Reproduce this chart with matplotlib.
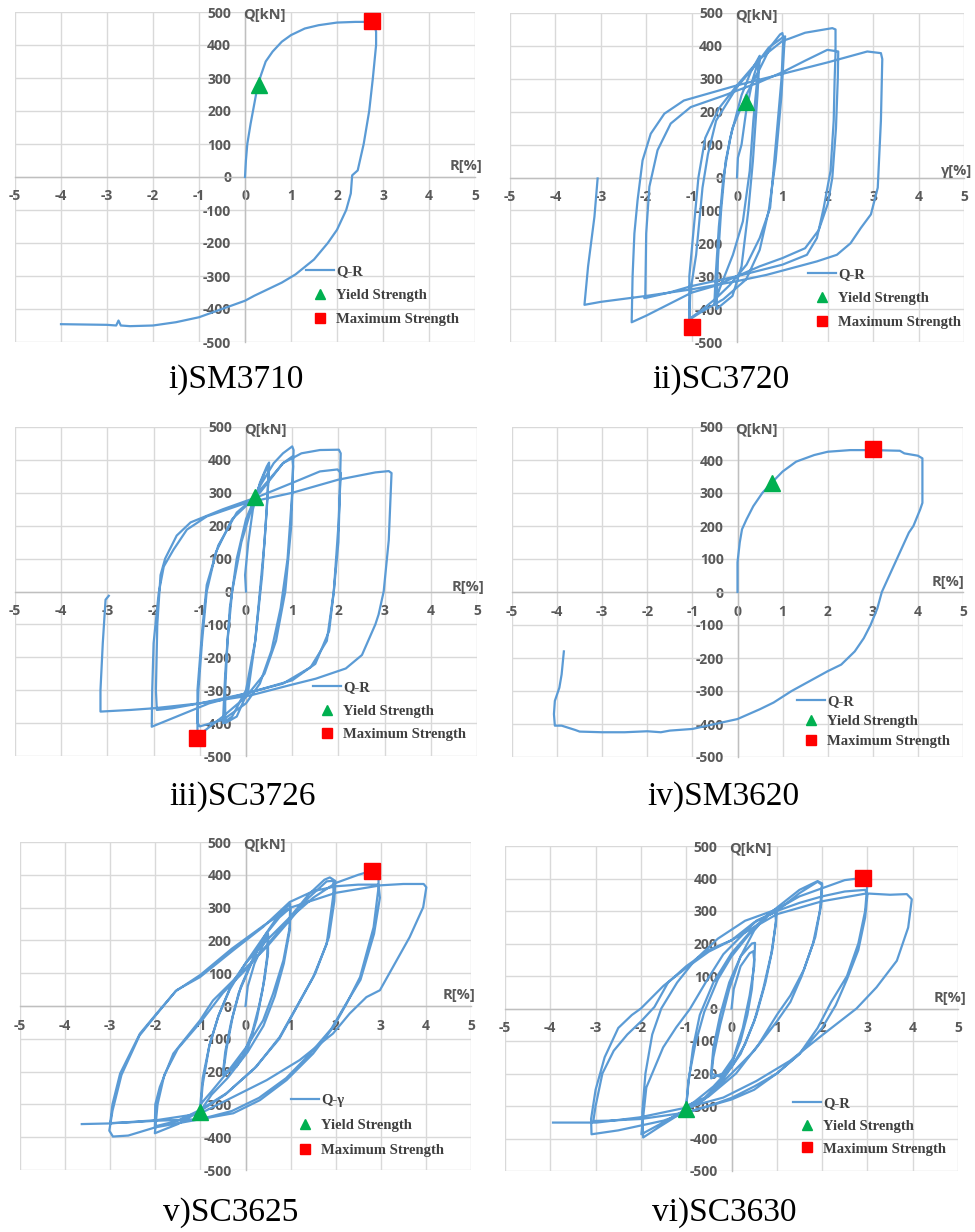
import matplotlib
matplotlib.use('Agg')
import matplotlib.pyplot as plt

plt.rcParams['axes.unicode_minus'] = False

# ---------------- data ----------------
x_ticks = [-5, -4, -3, -2, -1, 0, 1, 2, 3, 4, 5]
y_ticks = [-500, -400, -300, -200, -100, 0, 100, 200, 300, 400, 500]

# i) SM3710
sm3710_r = [0, 0.02, 0.05, 0.12, 0.2, 0.28, 0.35, 0.45, 0.6, 0.8, 1.0, 1.3, 1.6, 2.0, 2.4, 2.8,
            2.85, 2.85, 2.78, 2.7, 2.58, 2.45, 2.33, 2.3, 2.2, 2.1, 2.0, 1.8, 1.5, 1.1, 0.8, 0.5,
            0.2, 0.0, -0.5, -1.0, -1.5, -2.0, -2.5, -2.7, -2.75, -2.8, -3.0, -4.0]
sm3710_q = [0, 50, 100, 160, 220, 280, 310, 350, 380, 410, 430, 450, 460, 468, 470, 470,
            440, 400, 300, 200, 100, 20, 5, -50, -100, -130, -160, -200, -250, -295, -320, -340,
            -360, -375, -400, -425, -440, -450, -452, -450, -435, -450, -448, -446]
sm3710_yield = (0.3, 278)
sm3710_max = (2.75, 472)

# ii) SC3720
sc3720_r = [0, 0.02, 0.1, 0.2, 0.35, 0.5, 0.43, 0.36, 0.28, 0.13, -0.09, -0.38, -0.5,
            -0.47, -0.4, -0.3, -0.15, 0.1, 0.3, 0.5, 0.45, 0.35, 0.25, 0.1, -0.1, -0.45,
            -0.42, -0.35, -0.25, -0.1, 0.2, 0.5, 0.75, 0.95, 1.0, 1.02, 0.98, 0.9, 0.73, 0.5,
            0.21, -0.16, -0.46, -0.75, -1.0, -1.05, -1.03, -0.9, -0.76, -0.64, -0.46, 0.0, 0.4,
            0.7, 1.0, 1.06, 1.04, 0.98, 0.85, 0.7, 0.5, 0.2, -0.3, -0.8, -1.05, -1.05, -0.95,
            -0.85, -0.7, -0.4, 0.0, 0.5, 1.0, 1.17, 1.5, 2.1, 2.17, 2.17, 2.15, 2.13, 2.06, 1.91,
            1.76, 1.54, 1.0, 0.0, -1.0, -1.5, -2.04, -2.02, -2.0, -1.93, -1.75, -1.46, -1.02,
            -0.29, 0.5, 1.0, 1.5, 1.99, 2.23, 2.22, 2.18, 2.1, 2.0, 1.8, 1.5, 1.0, 0.5, 0.0, -0.5,
            -1.0, -1.5, -2.0, -2.32, -2.3, -2.26, -2.19, -2.08, -1.9, -1.6, -1.17, 0.0, 1.0, 2.0,
            2.87, 3.17, 3.2, 3.17, 3.1, 2.95, 2.73, 2.5, 2.2, 1.76, 0.65, 0.0, -1.0, -2.0, -3.0,
            -3.36, -3.28, -3.14, -3.07]
sc3720_q = [0, 60, 100, 200, 300, 367, 276, 173, 20, -133, -235, -337, -388,
            -300, -150, 0, 120, 250, 320, 370, 250, 50, -100, -270, -360, -400,
            -250, -100, 50, 150, 250, 330, 400, 435, 439, 420, 300, 173, -92, -184,
            -265, -327, -367, -400, -425, -430, -350, -235, -31, 71, 173, 275, 340,
            395, 425, 429, 400, 250, 50, -100, -220, -310, -370, -410, -432, -300, -150,
            0, 120, 210, 280, 360, 415, 423, 440, 454, 450, 378, 296, 173, 20, -92,
            -184, -235, -265, -300, -330, -350, -367, -360, -170, -28, 83, 164, 214,
            249, 290, 320, 355, 388, 383, 300, 150, 0, -80, -160, -215, -245, -270, -300, -330,
            -350, -385, -420, -440, -300, -170, -69, 52, 133, 194, 234, 280, 315, 350,
            383, 378, 360, 173, -31, -112, -153, -200, -235, -255, -296, -315, -340, -360, -378,
            -387, -270, -119, -3]
sc3720_yield = (0.2, 230)
sc3720_max = (-1.0, -455)

# iii) SC3726
sc3726_r = [0, -0.02, 0.05, 0.15, 0.3, 0.45, 0.5, 0.47, 0.4, 0.3, 0.2, 0.05, -0.2, -0.45,
            -0.45, -0.4, -0.3, -0.1, 0.2, 0.4, 0.5, 0.45, 0.35, 0.2, 0.0, -0.3, -0.5,
            -0.45, -0.35, -0.2, 0.0, 0.3, 0.6, 0.8, 1.0, 1.03, 1.0, 0.9, 0.75, 0.55, 0.3, 0.0,
            -0.5, -1.0, -1.05, -1.03, -0.95, -0.85, -0.65, -0.3, 0.0, 0.5, 0.8, 1.0, 1.02,
            0.98, 0.85, 0.65, 0.4, 0.0, -0.5, -1.05, -1.05, -0.95, -0.85, -0.6, -0.2, 0.3,
            0.8, 1.2, 1.6, 2.01, 2.05, 2.03, 2.0, 1.9, 1.8, 1.5, 1.0, 0.5, 0.0, -1.0, -1.6,
            -1.93, -1.95, -1.92, -1.85, -1.75, -1.5, -1.2, -0.5, 0.3, 1.0, 1.6, 1.98, 2.05,
            2.0, 1.9, 1.75, 1.4, 0.8, 0.0, -0.8, -1.5, -2.04, -2.03, -2.0, -1.89, -1.78, -1.57,
            -1.28, -0.85, 0.0, 1.0, 2.0, 2.8, 3.09, 3.15, 3.09, 2.98, 2.87, 2.8, 2.51, 2.16,
            1.51, 0.94, 0.09, -1.0, -2.0, -2.5, -3.15, -3.15, -3.1, -3.04, -2.97]
sc3726_q = [0, 50, 150, 250, 330, 380, 392, 300, 150, 0, -150, -300, -380, -400,
            -300, -150, 0, 150, 290, 360, 385, 250, 50, -150, -300, -380, -400,
            -250, -50, 100, 220, 320, 390, 420, 441, 430, 300, 100, -50, -180, -280, -340,
            -390, -410, -400, -300, -150, 0, 120, 220, 260, 340, 390, 410, 380,
            200, 0, -150, -250, -320, -380, -440, -300, -120, 20, 140, 240, 300,
            390, 420, 430, 431, 420, 300, 150, 0, -120, -220, -270, -290, -310, -340, -355,
            -360, -300, -100, 50, 100, 170, 210, 250, 290, 330, 365, 371, 360,
            200, 0, -150, -230, -280, -310, -340, -380, -411, -300, -157, -5, 76, 127,
            188, 228, 269, 300, 340, 362, 366, 360, 156, 0, -70, -100, -193, -234,
            -265, -285, -316, -340, -355, -360, -365, -300, -157, -25, -13]
sc3726_yield = (0.2, 288)
sc3726_max = (-1.05, -445)

# iv) SM3620
sm3620_r = [0, 0, 0.05, 0.1, 0.2, 0.35, 0.55, 0.75, 1.0, 1.3, 1.7, 2.0, 2.5, 3.0, 3.6, 3.7,
            4.0, 4.1, 4.1, 4.1, 4.05, 3.9, 3.8, 3.5, 3.3, 3.2, 3.1, 2.95, 2.8, 2.6, 2.3, 2.0,
            1.6, 1.2, 0.8, 0.5, 0.0, -0.5, -1.0, -1.5, -1.7, -2.0, -2.5, -3.0, -3.5, -3.6,
            -3.9, -4.05, -4.07, -4.05, -3.95, -3.9, -3.85]
sm3620_q = [0, 90, 150, 190, 220, 260, 300, 330, 365, 395, 415, 425, 430, 430, 428, 420,
            413, 405, 350, 270, 250, 200, 180, 90, 30, 0, -50, -100, -140, -180, -220, -240,
            -270, -300, -335, -355, -385, -400, -415, -420, -425, -422, -425, -425, -423, -418,
            -405, -405, -370, -330, -290, -250, -180]
sm3620_yield = (0.77, 330)
sm3620_max = (3.0, 432)

# v) SC3625
sc3625_r = [0, 0.05, 0.2, 0.4, 0.5, 0.5, 0.42, 0.3, 0.15, -0.05, -0.3, -0.5, -0.45, -0.32,
            -0.15, 0.1, 0.3, 0.5, 0.48, 0.38, 0.25, 0.05, -0.2, -0.5,
            -0.42, -0.28, -0.1, 0.15, 0.45, 0.75, 0.99, 0.98, 0.84, 0.61, 0.39, 0.02, -0.42,
            -0.75, -1.0, -0.95, -0.8, -0.6, -0.35, 0.0, 0.4, 0.75, 1.0, 0.98, 0.85, 0.65, 0.4,
            0.05, -0.4, -0.75, -1.0,
            -0.95, -0.8, -0.6, -0.3, 0.0, 0.47, 0.98, 1.4, 1.75, 1.87, 1.95, 1.95, 1.8, 1.5,
            1.13, 0.76, 0.24, -0.42, -1.01, -1.5, -2.01, -2.0, -1.9, -1.6, -1.01, -0.72, -0.27,
            0.47, 0.98, 1.4, 1.8, 1.99, 1.97, 1.85, 1.55, 1.15, 0.75, 0.2, -0.45, -1.0, -1.5,
            -2.01,
            -1.95, -1.8, -1.5, -1.0, -0.5, 0.0, 0.5, 1.0, 1.5, 2.0, 2.5, 2.8, 2.95, 2.95, 2.84,
            2.54, 2.24, 1.95, 1.5, 0.91, 0.32, -0.27, -1.0, -2.0, -2.6, -3.0, -2.95, -2.78,
            -2.34, -1.97, -1.53, -1.01, -0.27, 0.39, 0.98, 1.5, 2.0, 2.5, 2.95, 2.98, 2.85,
            2.55, 2.2, 1.9, 1.4, 0.9, 0.3, -0.3, -1.0, -2.0, -2.6, -2.94, -3.02, -2.95, -2.75,
            -2.35, -2.0, -1.55, -1.0, -0.3, 0.4, 1.0, 2.0, 3.0, 3.5, 3.95, 4.01, 3.94, 3.64,
            3.27, 2.98, 2.68, 2.31, 1.94, 1.2, 0.47, -0.27, -1.01, -1.97, -3.0, -3.63]
sc3625_q = [0, 60, 130, 190, 215, 160, 80, 0, -80, -150, -190, -205, -140, -50,
            40, 120, 180, 220, 150, 50, -40, -130, -185, -210,
            -130, -30, 60, 140, 220, 280, 311, 240, 139, 37, -44, -125, -205,
            -260, -300, -220, -120, -30, 50, 130, 210, 270, 300, 230, 130, 30, -60,
            -140, -220, -270, -320,
            -240, -120, -30, 70, 130, 200, 270, 340, 385, 392, 385, 341, 189, 88,
            -3, -94, -185, -266, -317, -350, -367, -300, -247, -145, -44, 17, 78,
            180, 261, 330, 380, 382, 320, 210, 100, 0, -100, -190, -270, -320, -360,
            -388,
            -300, -210, -130, -50, 40, 110, 190, 270, 330, 375, 400, 412, 400, 362, 240,
            88, 7, -64, -145, -226, -287, -327, -345, -350, -355, -357, -300, -206,
            -84, -23, 48, 88, 170, 241, 317, 350, 365, 370, 370, 330, 220,
            80, 0, -70, -150, -220, -280, -320, -345, -370, -395, -398, -380, -320, -210,
            -90, -30, 45, 95, 175, 245, 300, 345, 368, 372, 372, 362, 301, 210,
            119, 48, 27, -23, -84, -165, -226, -277, -328, -348, -358, -360]
sc3625_yield = (-1.0, -322)
sc3625_max = (2.8, 413)

# vi) SC3630
sc3630_r = [0, 0.05, 0.2, 0.4, 0.48, 0.5, 0.45, 0.35, 0.2, 0.0, -0.25, -0.45, -0.4, -0.25,
            -0.05, 0.2, 0.45, 0.52, 0.5, 0.4, 0.25, 0.05, -0.2, -0.45,
            -0.4, -0.25, -0.05, 0.2, 0.5, 0.8, 0.96, 0.98, 0.9, 0.75, 0.55, 0.3, 0.0, -0.4,
            -0.8, -1.0, -0.95, -0.8, -0.6, -0.3, 0.0, 0.4, 0.8, 1.0, 0.98, 0.88, 0.7, 0.5,
            0.2, -0.2, -0.6, -1.0,
            -0.95, -0.85, -0.7, -0.4, 0.0, 0.5, 1.0, 1.5, 1.9, 2.0, 1.98, 1.85, 1.6, 1.3, 1.0,
            0.6, 0.1, -0.5, -1.0, -1.5, -1.99, -1.88, -1.51, -1.22, -0.92, -0.55, -0.18, 0.55,
            1.0, 1.5, 1.9, 2.0, 1.95, 1.8, 1.55, 1.3, 1.0, 0.5, 0.0, -0.6, -1.2, -1.6, -1.95,
            -1.97, -1.9, -1.75, -1.55, -1.2, -0.8, -0.3, 0.3, 1.0, 1.5, 2.0, 2.5, 2.9, 3.0,
            2.95, 2.8, 2.55, 2.2, 1.9, 1.5, 1.0, 0.5, 0.0, -1.0, -2.0, -2.7, -3.05, -3.0,
            -2.85, -2.6, -2.3, -2.0, -1.7, -1.4, -1.0, -0.5, 0.0, 0.5, 1.0, 1.5, 2.0, 2.5, 2.95,
            3.0, 2.95, 2.8, 2.55, 2.3, 2.0, 1.5, 1.0, 0.5, 0.0, -0.5, -1.0, -1.5, -2.0, -2.5,
            -3.09, -3.1, -3.0, -2.8, -2.5, -2.2, -2.0, -1.5, -1.0, -0.5, 0.0, 1.0, 2.0, 2.98,
            3.5, 3.87, 3.98, 3.9, 3.65, 3.2, 2.76, 2.03, 1.29, 0.55, -0.18, -1.0, -2.03, -2.98,
            -3.94]
sc3630_q = [0, 60, 130, 170, 176, 150, 60, -20, -100, -170, -210, -200, -120, -20,
            80, 160, 200, 202, 130, 40, -60, -150, -200, -215,
            -150, -50, 60, 160, 240, 290, 305, 270, 180, 80, -20, -110, -180, -240,
            -285, -305, -220, -110, -10, 90, 160, 230, 285, 300, 260, 170, 60, -40,
            -140, -220, -275, -300,
            -230, -120, -20, 80, 170, 250, 310, 365, 392, 385, 320, 220, 120, 40, -20,
            -110, -200, -270, -310, -350, -387, -243, -120, -58, -2, 85, 167, 270,
            300, 355, 390, 380, 300, 200, 100, 20, -40, -130, -200, -280, -330, -365, -397,
            -320, -200, -80, 0, 80, 150, 215, 270, 305, 345, 370, 395, 402, 385,
            300, 200, 100, 20, -60, -140, -200, -250, -280, -320, -340, -345, -346, -300,
            -200, -130, -80, -40, 5, 80, 130, 180, 210, 265, 300, 325, 345, 360, 365,
            350, 280, 180, 90, 10, -60, -140, -200, -240, -275, -300, -320, -345, -360, -375,
            -387, -340, -250, -150, -60, -20, 0, 70, 125, 175, 210, 290, 330, 354,
            350, 352, 336, 249, 147, 65, 0, -79, -161, -223, -274, -305, -335, -351,
            -351]
sc3630_yield = (-1.0, -308)
sc3630_max = (2.9, 403)

captions = ["i)SM3710", "ii)SC3720", "iii)SC3726", "iv)SM3620", "v)SC3625", "vi)SC3630"]
x_titles = ["R[%]", "γ[%]", "R[%]", "R[%]", "R[%]", "R[%]"]
line_labels = ["Q-R", "Q-R", "Q-R", "Q-R", "Q-γ", "Q-R"]

series = [(sm3710_r, sm3710_q, sm3710_yield, sm3710_max),
          (sc3720_r, sc3720_q, sc3720_yield, sc3720_max),
          (sc3726_r, sc3726_q, sc3726_yield, sc3726_max),
          (sm3620_r, sm3620_q, sm3620_yield, sm3620_max),
          (sc3625_r, sc3625_q, sc3625_yield, sc3625_max),
          (sc3630_r, sc3630_q, sc3630_yield, sc3630_max)]

# ---------------- layout (pixels) ----------------
W, H = 975, 1232
axes_px = [(15, 12, 475, 342), (510, 13, 964, 342),
           (15, 427, 477, 756), (512, 427, 963, 757),
           (20, 842, 471, 1170), (505, 846, 958, 1171)]
legend_px = [(306, 274, 0.75), (808, 277, 0.75), (313, 690, 0.7),
             (797, 704, 0.45), (291, 1103, 0.8), (793, 1106, 0.65)]
caption_px = [(236, 380), (721, 380), (243, 797), (723, 797), (231, 1213), (724, 1213)]
xtitle_pos = [(5.15, 33), (5.18, 20), (5.17, 15), (5.04, 30), (5.09, 33), (5.18, 31)]

LINE_C = '#5b9bd5'
GRID_C = '#d9d9d9'
AXIS_C = '#bfbfbf'
TXT_C = '#595959'
TICK_FONT = ['Open Sans', 'DejaVu Sans']

fig = plt.figure(figsize=(W / 100, H / 100), dpi=100)

for i, (r, q, yp, mp) in enumerate(series):
    l, t, rr, b = axes_px[i]
    ax = fig.add_axes([l / W, 1 - b / H, (rr - l) / W, (b - t) / H])
    ax.set_xlim(-5, 5)
    ax.set_ylim(-500, 500)
    ax.set_xticks(x_ticks)
    ax.set_yticks(y_ticks)
    ax.grid(True, color=GRID_C, linewidth=1.0)
    for gl in ax.get_xgridlines() + ax.get_ygridlines():
        gl.set_clip_on(False)
    ax.set_axisbelow(True)
    for s in ['top', 'right']:
        ax.spines[s].set_visible(False)
    ax.spines['left'].set_position(('data', 0))
    ax.spines['bottom'].set_position(('data', 0))
    for s in ['left', 'bottom']:
        ax.spines[s].set_color(AXIS_C)
        ax.spines[s].set_linewidth(1.0)
    ax.tick_params(axis='both', length=0, labelsize=10, labelcolor=TXT_C)
    ax.tick_params(axis='x', pad=9)
    ax.tick_params(axis='y', pad=10)
    for lbl in ax.get_xticklabels() + ax.get_yticklabels():
        lbl.set_fontweight('bold')
        lbl.set_family(TICK_FONT)

    ln, = ax.plot(r, q, color=LINE_C, linewidth=1.6, label=line_labels[i], zorder=3)
    tri, = ax.plot([yp[0]], [yp[1]], linestyle='none', marker='^', markersize=12,
                   color='#00b050', label='Yield Strength', zorder=4)
    sq, = ax.plot([mp[0]], [mp[1]], linestyle='none', marker='s', markersize=11.5,
                  color='#ff0000', label='Maximum Strength', zorder=4)

    ax.text(-0.05, 490, "Q[kN]", ha='left', va='center', fontsize=10.5, fontweight='bold',
            color=TXT_C, family=TICK_FONT, clip_on=False)
    xr, yc = xtitle_pos[i]
    ax.text(xr, yc, x_titles[i], ha='right', va='center', fontsize=10.5, fontweight='bold',
            color=TXT_C, family=TICK_FONT, clip_on=False)

    lx, ly, lsp = legend_px[i]
    leg = ax.legend(handles=[ln, tri, sq], loc='upper left',
                    bbox_to_anchor=(lx / W, 1 - (ly - 9) / H), bbox_transform=fig.transFigure,
                    frameon=False, borderpad=0, borderaxespad=0, handlelength=1.9,
                    handletextpad=0.15, labelspacing=lsp, markerscale=0.6,
                    prop={'family': 'Liberation Serif', 'weight': 'bold', 'size': 10.5})
    for txt in leg.get_texts():
        txt.set_color('#404040')

    cx, cy = caption_px[i]
    fig.text(cx / W, 1 - cy / H, captions[i], ha='center', va='center', fontsize=24,
             family='Liberation Serif', color='#000000')

fig.savefig('out.png', dpi=100)
